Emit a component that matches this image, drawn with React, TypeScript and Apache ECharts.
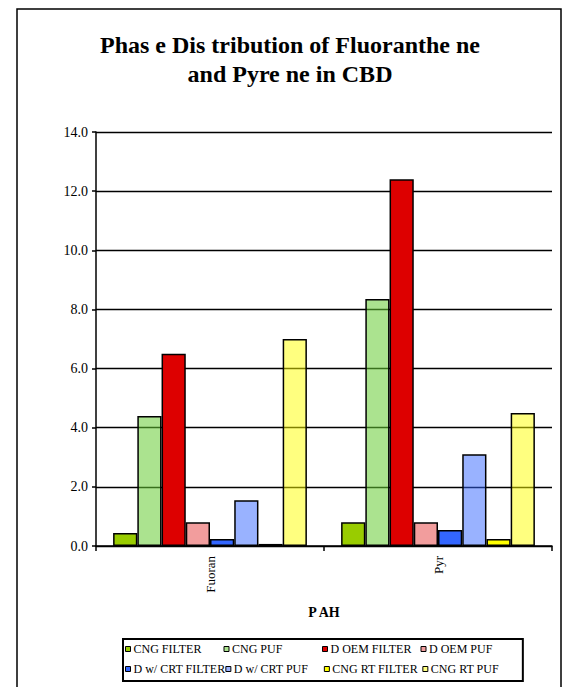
import React, { useEffect, useRef } from "react";
import * as echarts from "echarts";

const categories = ["Fuoran", "Pyr"];
const seriesNames = [
  "CNG FILTER",
  "CNG PUF",
  "D OEM FILTER",
  "D OEM PUF",
  "D w/ CRT FILTER",
  "D w/ CRT PUF",
  "CNG RT FILTER",
  "CNG RT PUF",
];
const cngFilter = [0.44, 0.8];
const cngPuf = [4.4, 8.35];
const doemFilter = [6.5, 12.4];
const doemPuf = [0.8, 0.8];
const dcrtFilter = [0.24, 0.54];
const dcrtPuf = [1.55, 3.1];
const cngRtFilter = [0.07, 0.24];
const cngRtPuf = [7.0, 4.5];
const seriesValues = [cngFilter, cngPuf, doemFilter, doemPuf, dcrtFilter, dcrtPuf, cngRtFilter, cngRtPuf];
const seriesColors = [
  "#99CC00",
  "rgba(102,204,51,0.55)",
  "#DD0000",
  "rgba(230,60,60,0.5)",
  "#3366FF",
  "rgba(51,102,255,0.5)",
  "#FFFF00",
  "rgba(255,255,0,0.5)",
];
const titleText = "Phas e Dis tribution of Fluoranthe ne\nand Pyre ne in CBD";
const xAxisName = "P AH";
const yMin = 0;
const yMax = 14;
const yInterval = 2;

const FONT = "'Liberation Serif', 'Times New Roman', serif";

export default function App() {
  const ref = useRef<HTMLDivElement>(null);
  useEffect(() => {
    if (!ref.current) return;
    const chart = echarts.init(ref.current, null, { renderer: "svg" });
    chart.setOption({
      animation: false,
      backgroundColor: "#ffffff",
      textStyle: { fontFamily: FONT, color: "#000" },
      title: {
        text: titleText,
        left: 285,
        top: 25,
        textAlign: "center",
        textStyle: {
          fontFamily: FONT,
          fontSize: 24,
          fontWeight: "bold",
          color: "#000",
          lineHeight: 29,
        },
      },
      graphic: [
        {
          type: "rect",
          shape: { x: 17, y: 9, width: 544, height: 700 },
          style: { fill: "none", stroke: "#000", lineWidth: 1.5 },
          z: 0,
          silent: true,
        },
      ],
      legend: {
        data: seriesNames,
        left: 123,
        top: 639,
        width: 420,
        orient: "horizontal",
        padding: [0, 2, 2, 2],
        itemGap: 0,
        itemWidth: 5,
        itemHeight: 5,
        icon: "rect",
        borderColor: "#000",
        borderWidth: 2,
        itemStyle: { borderColor: "#000", borderWidth: 1 },
        textStyle: {
          fontFamily: FONT,
          fontSize: 12,
          color: "#000",
          width: 90,
          overflow: "none",
          lineHeight: 20,
          padding: [0, 0, 0, -2],
        },
      },
      grid: { left: 96, right: 11, top: 132, bottom: 141 },
      xAxis: {
        type: "category",
        data: categories,
        name: xAxisName,
        nameLocation: "middle",
        nameGap: 59,
        nameTextStyle: { fontFamily: FONT, fontSize: 14, fontWeight: "bold", color: "#000" },
        axisLine: { lineStyle: { color: "#000", width: 1.5 } },
        axisTick: { show: true, length: 5, lineStyle: { color: "#000", width: 1.5 } },
        axisLabel: { rotate: 90, margin: 10, fontFamily: FONT, fontSize: 13, color: "#000" },
      },
      yAxis: {
        type: "value",
        min: yMin,
        max: yMax,
        interval: yInterval,
        axisLine: { show: true, lineStyle: { color: "#000", width: 1.5 } },
        axisTick: { show: true, length: 4, lineStyle: { color: "#000", width: 1.5 } },
        axisLabel: {
          margin: 8,
          fontFamily: FONT,
          fontSize: 14,
          color: "#000",
          formatter: (v: number) => v.toFixed(1),
        },
        splitLine: { show: true, lineStyle: { color: "#000", width: 1.3 } },
      },
      series: seriesNames.map((name, i) => ({
        name,
        type: "bar",
        data: seriesValues[i],
        barGap: "0%",
        barCategoryGap: "15%",
        itemStyle: { color: seriesColors[i], borderColor: "#000", borderWidth: 1.5 },
      })),
    });
    return () => chart.dispose();
  }, []);
  return (
    <div
      ref={ref}
      style={{ position: "absolute", left: 0, top: 0, width: 563, height: 687 }}
    />
  );
}
